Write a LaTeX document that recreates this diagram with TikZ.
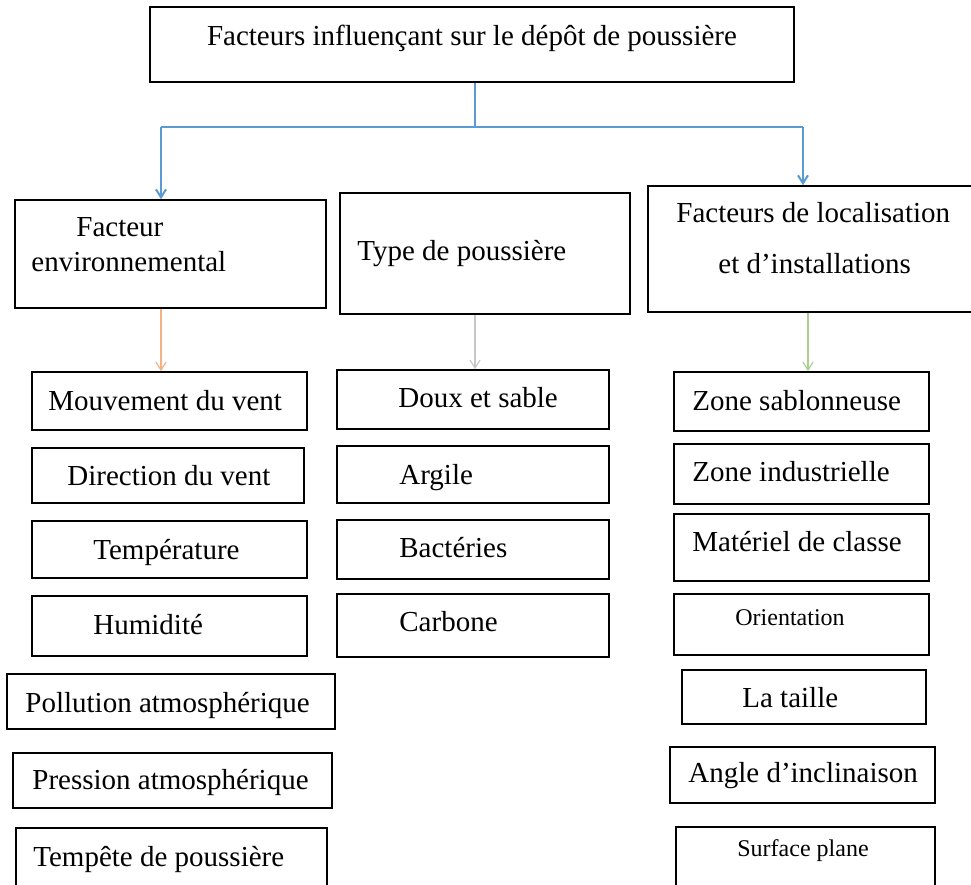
\documentclass[tikz,border=0pt]{standalone}
\usepackage{fontspec}
\setmainfont{Liberation Serif}
\usepackage{tikz}
\usetikzlibrary{positioning,arrows.meta,fit}
\definecolor{TreeBlue}{RGB}{91,155,213}
\definecolor{EnvOrange}{RGB}{244,177,131}
\definecolor{TypeGray}{RGB}{200,200,200}
\definecolor{LocGreen}{RGB}{169,208,142}
\tikzset{
  box/.style={draw,line width=0.8pt,inner sep=0pt},
  txt/.style={anchor=west,inner sep=0pt,yshift=-1.5pt,text height=0.75em,text depth=0.1em,font=\fontsize{14.5}{17}\selectfont},
  small/.style={txt,font=\fontsize{12}{14}\selectfont},
  link/.style={line width=0.6pt,-{Straight Barb[length=4pt,width=5pt]}}
}

\begin{document}
\begin{tikzpicture}[x=0.5pt,y=-0.5pt]
            \useasboundingbox (0,0) rectangle (971,885);
            \clip (0,0) rectangle (971,885);
            % top box
            \node[box,fit={(150,7)(794,82)}] (top) {};
            \node[txt,anchor=center] at (472,36) {Facteurs influençant sur le dépôt de poussière};
            % second level
            \node[box,fit={(15,200)(326,308)}] (env) {};
            \node[txt] at (76,227) {Facteur};
            \node[txt] at (31,262) {environnemental};
            \node[box,fit={(340,193)(630,314)}] (typ) {};
            \node[txt] at (357,251) {Type de poussière};
            \node[box,fit={(648,186)(980,312)}] (loc) {};
            \node[txt] at (676,213) {Facteurs de localisation};
            \node[txt] at (718,264) {et d’installations};
            % blue tree
            \coordinate (split) at (475,127);
            \coordinate (splitL) at (161,127);
            \coordinate (splitR) at (803,127);
            \draw[TreeBlue,line width=1pt] (split |- top.south) -- (split);
            \draw[TreeBlue,line width=1pt] (splitL) -- (splitR);
            \draw[TreeBlue,link,line width=1pt] (splitL) -- (splitL |- env.north);
            \draw[TreeBlue,link,line width=1pt] (splitR) -- (splitR |- loc.north);
            % environment column
            \node[box,fit={(32,372)(307,430)}] (mvt) {};
            \node[txt] at (48,401) {Mouvement du vent};
            \node[box,fit={(32,448)(304,503)}] (dir) {};
            \node[txt] at (67,476) {Direction du vent};
            \node[box,fit={(32,521)(307,578)}] (tmp) {};
            \node[txt] at (93,550) {Température};
            \node[box,fit={(32,596)(307,656)}] (hum) {};
            \node[txt] at (93,625) {Humidité};
            \node[box,fit={(7,674)(335,729)}] (pol) {};
            \node[txt] at (25,703) {Pollution atmosphérique};
            \node[box,fit={(13,753)(332,808)}] (pre) {};
            \node[txt] at (32,780) {Pression atmosphérique};
            \node[box,fit={(16,828)(327,900)}] (tpt) {};
            \node[txt] at (33,857) {Tempête de poussière};
            % dust type column
            \node[box,fit={(337,370)(609,429)}] (doux) {};
            \node[txt] at (398,398) {Doux et sable};
            \node[box,fit={(337,446)(609,503)}] (arg) {};
            \node[txt] at (399,475) {Argile};
            \node[box,fit={(337,520)(609,579)}] (bac) {};
            \node[txt] at (399,548) {Bactéries};
            \node[box,fit={(337,594)(609,657)}] (car) {};
            \node[txt] at (399,622) {Carbone};
            % location column
            \node[box,fit={(674,372)(929,431)}] (zsab) {};
            \node[txt] at (692,401) {Zone sablonneuse};
            \node[box,fit={(674,444)(929,504)}] (zind) {};
            \node[txt] at (692,472) {Zone industrielle};
            \node[box,fit={(674,514)(929,581)}] (mat) {};
            \node[txt] at (692,542) {Matériel de classe};
            \node[box,fit={(674,594)(929,655)}] (ori) {};
            \node[small] at (735,616) {Orientation};
            \node[box,fit={(682,670)(926,724)}] (tai) {};
            \node[txt] at (742,698) {La taille};
            \node[box,fit={(670,747)(935,803)}] (ang) {};
            \node[txt] at (688,773) {Angle d’inclinaison};
            \node[box,fit={(676,827)(935,900)}] (sur) {};
            \node[small] at (737,847) {Surface plane};
            % column arrows
            \coordinate (envArr) at (161,0);
            \coordinate (typArr) at (475,0);
            \coordinate (locArr) at (808,0);
            \draw[EnvOrange,link] (envArr |- env.south) -- (envArr |- mvt.north);
            \draw[TypeGray,link] (typArr |- typ.south) -- (typArr |- doux.north);
            \draw[LocGreen,link] (locArr |- loc.south) -- (locArr |- zsab.north);
        \end{tikzpicture}
\end{document}
